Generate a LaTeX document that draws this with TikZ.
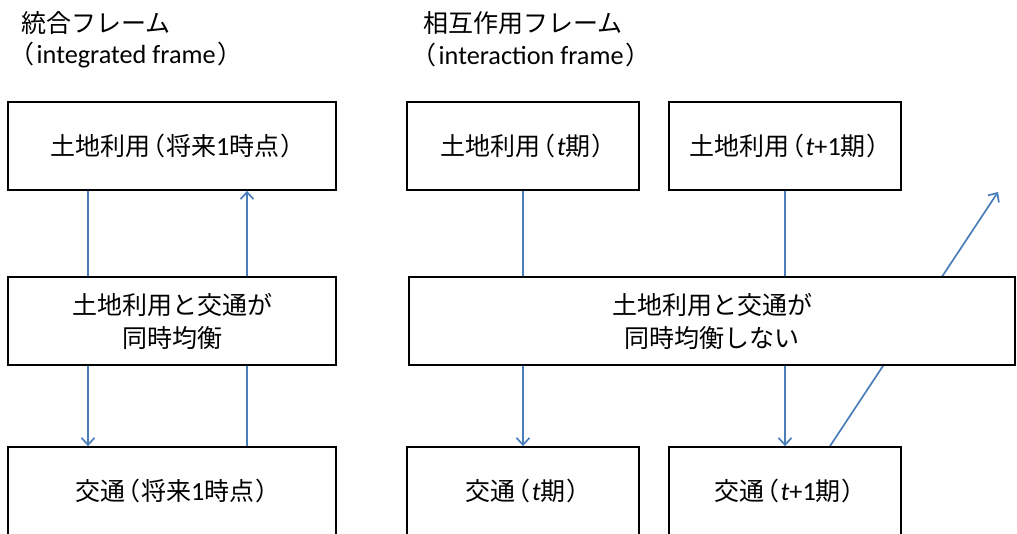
\documentclass[tikz,border=0pt]{standalone}
\usepackage{fontspec}
\setmainfont[Scale=1.05]{Carlito}
\newfontfamily\jp{Noto Sans CJK JP}
\newfontfamily\jpp[RawFeature=+palt]{Noto Sans CJK JP}
\usetikzlibrary{arrows.meta,backgrounds}
\definecolor{lineblue}{HTML}{4A7EBB}
\newcommand{\ti}{{\rmfamily\itshape t}}
\newcommand{\lpar}{\kern1.5pt{\jpp （}\kern2pt}
\newcommand{\rpar}{\kern2pt{\jpp ）}}
\begin{document}
\begin{tikzpicture}[x=1pt,y=-1pt,
  box/.style={draw=black,line width=1.8pt,fill=white,inner sep=0pt,
    font=\jp\fontsize{25}{33}\selectfont,align=center,
    minimum height=88pt},
  link/.style={draw=lineblue,line width=1.7pt},
  arr/.style={link,-{Straight Barb[length=7pt,width=13pt,line width=1.7pt]}},
  title/.style={anchor=west,inner sep=0pt,font=\jp\fontsize{25}{30}\selectfont}]
\useasboundingbox (0,0) rectangle (1017,533);
\clip (0,0) rectangle (1017,533);

% titles
\node[title] (t1a) at (21,23) {統合フレーム};
\node[title] (t1b) at (21,55) {{\jpp （}\kern3pt{\rmfamily integrated frame}\kern3pt{\jpp ）}};
\node[title] (t2a) at (423,23) {相互作用フレーム};
\node[title] (t2b) at (423,55) {{\jpp （}\kern3pt{\rmfamily interaction frame}\kern3pt{\jpp ）}};

% left column
\node[box,minimum width=328pt] (lt) at (172,146) {土地利用\lpar 将来{\rmfamily 1}時点\rpar};
\node[box,minimum width=328pt] (lm) at (172,321) {土地利用と交通が\\同時均衡};
\node[box,minimum width=328pt] (lb) at (172,491) {交通\lpar 将来{\rmfamily 1}時点\rpar};

% right column
\node[box,minimum width=232pt] (rt1) at (523,146) {土地利用\lpar\ti 期\rpar};
\node[box,minimum width=232pt] (rt2) at (785,146) {土地利用\lpar\ti{\rmfamily +1}期\rpar};
\node[box,minimum width=606pt] (rm) at (712,321) {土地利用と交通が\\同時均衡しない};
\node[box,minimum width=232pt] (rb1) at (523,491) {交通\lpar\ti 期\rpar};
\node[box,minimum width=232pt] (rb2) at (785,491) {交通\lpar\ti{\rmfamily +1}期\rpar};

\coordinate (xa) at (88,0);
\coordinate (xb) at (247,0);
\coordinate (xc) at (830,0);
\coordinate (tip) at (998,192);

% left connectors
\draw[link] (lt.south -| xa) -- (lm.north -| xa);
\draw[arr] (lm.south -| xa) -- (lb.north -| xa);
\draw[link] (lb.north -| xb) -- (lm.south -| xb);
\draw[arr] (lm.north -| xb) -- (lt.south -| xb);

% right connectors
\draw[link] (rt1.south) -- (rm.north -| rt1);
\draw[arr] (rm.south -| rt1) -- (rb1.north);
\draw[link] (rt2.south) -- (rm.north -| rt2);
\draw[arr] (rm.south -| rt2) -- (rb2.north);

\begin{pgfonlayer}{background}
\draw[arr] (rb2.north -| xc) -- (tip);
\end{pgfonlayer}
\end{tikzpicture}
\end{document}
